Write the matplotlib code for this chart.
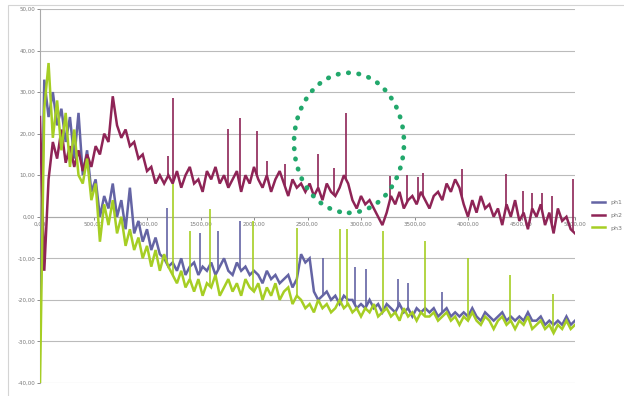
import numpy as np
import matplotlib
matplotlib.use("Agg")
import matplotlib.pyplot as plt
from matplotlib.patches import Ellipse, Rectangle

# sample grid (Hz), one value every 40
freq = np.arange(0, 5001, 40)

ph1 = [-28, 33, 24, 30, 22, 26, 18, 24, 14, 25,
       10, 16, 6, 9, 0, 5, 2, 8, 0, 4,
       -3, 7, -4, -1, -6, -3, -8, -5, -9,
       -10, -12, -11, -13, -10, -14, -12, -11, -14, -12,
       -13, -11, -14, -12, -10, -13, -14, -11, -13, -12,
       -14, -13,
       -14, -16, -13, -15, -14, -16, -15, -14, -17, -15,
       -9, -11, -10,
       -18, -20, -19, -18, -20, -19, -21, -19, -20,
       -20, -22, -21, -22, -20, -22, -21, -23, -21, -22,
       -23, -21, -23, -22, -24, -22, -23, -22,
       -23, -22, -24, -23, -22, -24, -23, -24, -23, -24,
       -22, -24, -25, -23, -24, -25, -24, -23, -25, -24,
       -25, -24, -25, -23, -25, -25, -24, -26, -25, -26,
       -25, -26, -24, -26, -25]

ph2 = [24, -13, 9, 18, 14, 21, 13, 17, 12, 16,
       11, 15, 12, 17, 15, 20, 18, 29, 22, 19,
       21, 17, 18, 14, 15, 11, 12, 8, 10, 8,
       10, 8,
       11, 7, 10, 12, 8, 9, 6, 11, 9, 12,
       8, 10, 7, 9, 11, 6, 10, 8, 12, 9,
       7, 10, 6, 9, 11, 8, 5, 9, 7, 8,
       6, 8, 5, 7, 4, 8, 6, 5, 7,
       10, 8,
       4, 2, 5, 3, 4, 2,
       0, -2, 1,
       5, 3, 6, 2, 4, 5, 3, 6, 4, 2, 5,
       6, 4, 8, 6, 9, 7,
       3, 0, 4, 1, 5, 2, 3, 0,
       2, -2, 3, 0, 4, -1, 1, -3, 2, 0,
       3, -2, 1, -4, 2, -1, 0, -3, -4]

ph3 = [-40, 26, 37, 19, 28, 16, 25, 12, 21, 10,
       8, 14, 4, 8, -6, 3, -2, 4, -4, 0,
       -7, -3, -8, -5, -10, -7, -12, -8, -13, -9,
       -12, -14, -16, -13, -17, -15,
       -18, -15, -19, -16, -17, -14, -19, -17, -15, -18,
       -16, -19, -15, -17, -18,
       -16, -20, -17, -19, -16, -20, -18, -17, -21, -19,
       -20, -22, -21, -23, -20, -22, -21, -23, -22, -20, -22,
       -21, -23, -22, -24, -22, -23, -21, -24, -23, -22,
       -24, -23, -25, -22, -24, -23, -25, -23, -24,
       -24, -23, -25, -24, -23, -25, -24, -26, -24, -25,
       -23, -25, -26, -24, -25, -27, -25, -24, -26, -25,
       -27, -25, -26, -24, -27, -26, -25, -27, -26, -28,
       -26, -27, -25, -27, -26]

# narrow peaks: position and peak value
ph1_peak_f = [1187, 1495, 1664, 1869, 2645, 2944, 3047, 3346, 3439, 3757]
ph1_peak_v = [2.2, -4, -3.4, -1, -9.9, -12, -12.5, -15, -16, -18]
ph2_peak_f = [1196, 1243, 1757, 1869, 2028, 2122, 2290, 2598, 2748, 2860,
              3271, 3430, 3533, 3580, 3944, 4355, 4514, 4598, 4692, 4785, 4981]
ph2_peak_v = [14.7, 28.6, 21.2, 23.8, 20.7, 13.5, 12.7, 15.1, 11.8, 25,
              9.9, 10, 9.5, 10.5, 11.5, 10.3, 6.2, 5.8, 5.8, 5, 9.1]
ph3_peak_f = [1243, 1402, 1589, 1990, 2402, 2804, 2869, 3206, 3598, 4000, 4393, 4794]
ph3_peak_v = [8, -3.4, 1.9, -1, -2.6, -3, -3, -3.4, -5.8, -9.9, -14, -18.5]

names = ["ph1", "ph2", "ph3"]
colors = ["#6464A4", "#8E2456", "#A6CE24"]

fig = plt.figure(figsize=(6.24, 3.96), dpi=100)
ax = fig.add_axes([40 / 624, 13 / 396, 535 / 624, 374 / 396])

series = [(ph1, ph1_peak_f, ph1_peak_v), (ph2, ph2_peak_f, ph2_peak_v),
          (ph3, ph3_peak_f, ph3_peak_v)]
handles = []
for (vals, pf, pv), name, c in zip(series, names, colors):
    ln, = ax.plot(freq, vals, color=c, lw=1.8, label=name, zorder=3,
                  solid_joinstyle="miter")
    base = np.interp(pf, freq, vals)
    ax.vlines(pf, base, pv, color=c, lw=1.2, zorder=3)
    handles.append(ln)

# dotted ring around the peak near 2860
ring = Ellipse((2888, 17.8), 1028, 33.7, fill=False, ec="#22A86C", lw=3.4,
               linestyle=(0, (0.1, 2.1)), zorder=4)
ring.set_capstyle("round")
ax.add_patch(ring)

ax.set_xlim(0, 5000)
ax.set_ylim(-40, 50)
ax.set_yticks(np.arange(-40, 51, 10))
ax.set_xticks(np.arange(0, 5001, 500))
fmt = lambda v: f"{v:.2f}".replace(".", ",")
ax.set_yticklabels([fmt(v) for v in np.arange(-40, 51, 10)])
ax.set_xticklabels([fmt(v) for v in np.arange(0, 5001, 500)])
ax.tick_params(labelsize=4, colors="#777777", length=2, width=0.6, pad=1.5)

ax.grid(axis="y", color="#BBBBBB", lw=0.8)
ax.set_axisbelow(True)
ax.spines["top"].set_visible(False)
ax.spines["right"].set_visible(False)
ax.spines["bottom"].set_position(("data", 0))
for s in ("left", "bottom"):
    ax.spines[s].set_color("#AAAAAA")
    ax.spines[s].set_linewidth(0.8)

fig.patches.append(Rectangle((8 / 624, -0.1), 1.2, (391 / 396) + 0.1,
                             transform=fig.transFigure, fill=False,
                             ec="#D4D4D4", lw=0.8))

leg = fig.legend(handles=handles, loc="center left",
                 bbox_to_anchor=(586 / 624, 181 / 396), fontsize=4.5,
                 frameon=False, handlelength=2.2, labelspacing=1.2,
                 labelcolor="#777777")

fig.savefig("out.png", dpi=100)
